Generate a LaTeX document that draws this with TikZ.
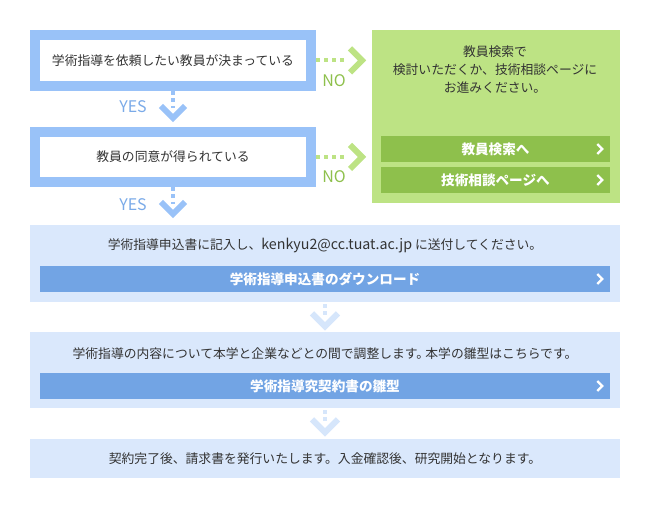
\documentclass[tikz,border=0pt]{standalone}
\usepackage{fontspec}
\setmainfont{Noto Sans CJK JP}
\usepackage{tikz}
\usetikzlibrary{calc}
\definecolor{cframe}{RGB}{153,194,248}
\definecolor{cyes}{RGB}{122,170,232}
\definecolor{cpanel}{RGB}{218,232,252}
\definecolor{cbtn}{RGB}{114,164,228}
\definecolor{cgreen}{RGB}{189,227,132}
\definecolor{cgreenbtn}{RGB}{142,192,76}
\definecolor{ctext}{RGB}{51,51,51}
\definecolor{cstep}{RGB}{214,230,251}
\newlength{\unitpx}
\setlength{\unitpx}{0.75pt}

\begin{document}
\begin{tikzpicture}[x=0.75pt,y=-0.75pt,
    txt/.style={font=\fontsize{9.6}{13.5}\selectfont, text=ctext, inner sep=0pt},
    btntxt/.style={font=\fontsize{10.2}{13}\selectfont\bfseries, text=white},
    frame/.style={draw=cframe, line width=10\unitpx, fill=white, minimum width=276\unitpx, inner sep=0pt, txt},
    panel/.style={fill=cpanel, minimum width=590\unitpx, inner sep=0pt},
    bbtn/.style={fill=cbtn, minimum width=570\unitpx, minimum height=26\unitpx, inner sep=0pt, btntxt},
    gbtn/.style={fill=cgreenbtn, minimum width=229\unitpx, minimum height=26\unitpx, inner sep=0pt, btntxt},
    yeslbl/.style={font=\fontsize{12}{14}\selectfont, text=cyes},
    nolbl/.style={font=\fontsize{12}{14}\selectfont, text=cgreenbtn},
    yesdots/.style={draw=cframe, line width=4\unitpx, dash pattern=on 4\unitpx off 3.5\unitpx},
    nodots/.style={draw=cgreen, line width=4\unitpx, dash pattern=on 4\unitpx off 4\unitpx},
    stepdots/.style={draw=cstep, line width=4\unitpx, dash pattern=on 3.5\unitpx off 3.5\unitpx},
    chev/.style={line width=6\unitpx, miter limit=4},
    btnchev/.style={draw=white, line width=2.2\unitpx}]
  \useasboundingbox (0,0) rectangle (650,509);
  % ---- questions
  \node[frame, minimum height=51\unitpx] (want) at (173,60.5) {学術指導を依頼したい教員が決まっている};
  \node[frame, minimum height=50\unitpx] (agree) at (173,157) {教員の同意が得られている};
  % ---- green box (NO)
  \node[fill=cgreen, minimum width=248\unitpx, minimum height=173\unitpx, inner sep=0pt] (search) at (496,116.5) {};
  \node[txt, align=center] (searchtxt) at (495,70) {教員検索で\\検討いただくか、技術相談ページに\\お進みください。};
  \node[gbtn] (tosearch) at (495.5,149) {教員検索へ};
  \node[gbtn] (toconsult) at (495.5,180) {技術相談ページへ};
  \draw[btnchev] ($(tosearch.east)+(-13,-5)$) -- ++(5,5) -- ++(-5,5);
  \draw[btnchev] ($(toconsult.east)+(-13,-5)$) -- ++(5,5) -- ++(-5,5);
  % ---- NO arrows
  \draw[nodots] (want.east) -- ++(30,0);
  \draw[chev,cgreen] ($(want.east)+(34,-12)$) -- ++(12,12) -- ++(-12,12);
  \node[nolbl] at ($(want.east)+(18,20)$) {NO};
  \draw[nodots] (agree.east) -- ++(30,0);
  \draw[chev,cgreen] ($(agree.east)+(34,-12)$) -- ++(12,12) -- ++(-12,12);
  \node[nolbl] at ($(agree.east)+(18,20)$) {NO};
  % ---- YES arrows
  \draw[yesdots] (want.south) -- ++(0,17);
  \draw[chev,cframe] ($(want.south)+(-12,15)$) -- ++(12,12) -- ++(12,-12);
  \node[yeslbl] at ($(want.south)+(-40,16)$) {YES};
  \draw[yesdots] (agree.south) -- ++(0,17);
  \draw[chev,cframe] ($(agree.south)+(-12,15)$) -- ++(12,12) -- ++(12,-12);
  \node[yeslbl] at ($(agree.south)+(-40,18)$) {YES};
  % ---- steps
  \node[panel, minimum height=77\unitpx] (apply) at (325,263.5) {};
  \node[txt] (applytxt) at (325,246) {学術指導申込書に記入し、{\fontsize{10.7}{13}\selectfont kenkyu2@cc.tuat.ac.jp} に送付してください。};
  \node[bbtn] (download) at (325,279) {学術指導申込書のダウンロード};
  \draw[btnchev] ($(download.east)+(-13,-5)$) -- ++(5,5) -- ++(-5,5);
  \node[panel, minimum height=76\unitpx] (adjust) at (325,370) {};
  \node[txt] (adjusttxt) at (325,354) {学術指導の内容について本学と企業などとの間で調整します。\kern-0.3em本学の雛型はこちらです。};
  \node[bbtn] (template) at (325,386) {学術指導究契約書の雛型};
  \draw[btnchev] ($(template.east)+(-13,-5)$) -- ++(5,5) -- ++(-5,5);
  \node[panel, minimum height=39\unitpx, txt] (start) at (325,458.5) {契約完了後、請求書を発行いたします。入金確認後、研究開始となります。};
  % ---- step arrows
  \draw[stepdots] ($(apply.south)+(0,2)$) -- ++(0,11);
  \draw[chev,cstep] ($(apply.south)+(-13,11)$) -- ++(13,13) -- ++(13,-13);
  \draw[stepdots] ($(adjust.south)+(0,2)$) -- ++(0,11);
  \draw[chev,cstep] ($(adjust.south)+(-13,11)$) -- ++(13,13) -- ++(13,-13);
\end{tikzpicture}
\end{document}
